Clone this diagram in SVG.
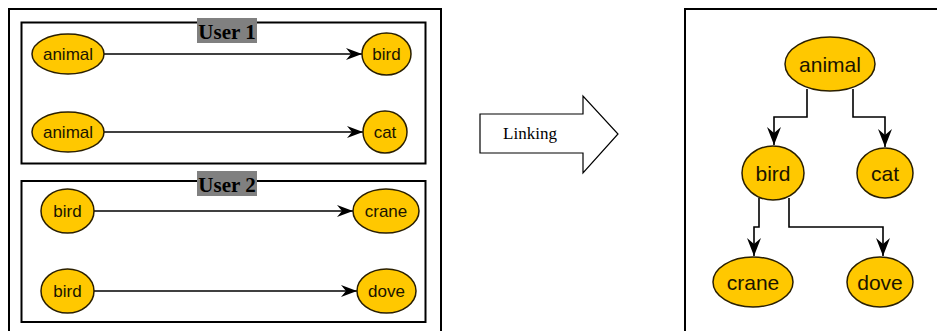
<svg xmlns="http://www.w3.org/2000/svg" width="937" height="331" viewBox="0 0 937 331">
<defs>
<marker id="ah" markerUnits="userSpaceOnUse" markerWidth="18" markerHeight="14" refX="17" refY="7" orient="auto">
<path d="M1,1 L17,7 L1,13 L6,7 Z" fill="#000"/>
</marker>
<marker id="ah2" markerUnits="userSpaceOnUse" markerWidth="20" markerHeight="16" refX="19" refY="8" orient="auto">
<path d="M1,1 L19,8 L1,15 L7,8 Z" fill="#000"/>
</marker>
</defs>
<style>
.frame{fill:none;stroke:#000;stroke-width:2}
.node ellipse{fill:#FFC800;stroke:#2a1f00;stroke-width:1.5}
.node text{font-family:"Liberation Sans",Arial,sans-serif;font-size:17px;fill:#1a1400;text-anchor:middle;dominant-baseline:central}
.big text{font-size:21px}
.edge{fill:none;stroke:#000;stroke-width:1.5;marker-end:url(#ah)}
.tedge{fill:none;stroke:#000;stroke-width:1.6;marker-end:url(#ah2)}
.ulabel{font-family:"Liberation Serif","Times New Roman",serif;font-weight:bold;font-size:21px;fill:#000;text-anchor:middle}
</style>
<rect width="937" height="331" fill="#fff"/>
<g id="frames">
<rect class="frame" x="9" y="9" width="432" height="340"/>
<rect class="frame" x="21.5" y="22.5" width="404" height="141"/>
<rect class="frame" x="21.5" y="181" width="404" height="141"/>
<rect class="frame" x="685" y="9" width="270" height="340"/>
</g>
<g id="user1-label">
<rect x="197" y="18" width="60" height="25" fill="#808080"/>
<text class="ulabel" x="227" y="38.5">User 1</text>
</g>
<g id="user2-label">
<rect x="197" y="171" width="60" height="25" fill="#808080"/>
<text class="ulabel" x="227" y="191.5">User 2</text>
</g>
<g id="linking">
<polygon points="480,114 583,114 583,96 618,134 583,173 583,153 480,153" fill="#fff" stroke="#000" stroke-width="1.2"/>
<text x="530" y="139" font-family="Liberation Serif,'Times New Roman',serif" font-size="17" text-anchor="middle">Linking</text>
</g>
<g id="connectors">
<line class="edge" x1="104" y1="54" x2="362" y2="54"/>
<line class="edge" x1="104" y1="132" x2="363" y2="132"/>
<line class="edge" x1="94" y1="211" x2="353" y2="211"/>
<line class="edge" x1="94" y1="291" x2="357" y2="291"/>
<polyline class="tedge" points="807,89 807,117 774,117 774,145"/>
<polyline class="tedge" points="853,89 853,117 885,117 885,147"/>
<polyline class="tedge" points="759,198 759,227 754,227 754,256"/>
<polyline class="tedge" points="789,198 789,227 883,227 883,256"/>
</g>
<g id="u1-animal-a" class="node"><ellipse cx="68" cy="54" rx="36" ry="20"/><text x="68" y="54">animal</text></g>
<g id="u1-bird" class="node"><ellipse cx="386.5" cy="54" rx="24.5" ry="21"/><text x="386.5" y="54">bird</text></g>
<g id="u1-animal-b" class="node"><ellipse cx="68" cy="132" rx="36" ry="20"/><text x="68" y="132">animal</text></g>
<g id="u1-cat" class="node"><ellipse cx="385" cy="132" rx="22" ry="21"/><text x="385" y="132">cat</text></g>
<g id="u2-bird-a" class="node"><ellipse cx="67.5" cy="211" rx="26.5" ry="22"/><text x="67.5" y="211">bird</text></g>
<g id="u2-crane" class="node"><ellipse cx="386" cy="211" rx="33" ry="22"/><text x="386" y="211">crane</text></g>
<g id="u2-bird-b" class="node"><ellipse cx="67.5" cy="291" rx="26.5" ry="22"/><text x="67.5" y="291">bird</text></g>
<g id="u2-dove" class="node"><ellipse cx="386.5" cy="291" rx="29.5" ry="22"/><text x="386.5" y="291">dove</text></g>
<g id="t-animal" class="node big"><ellipse cx="830" cy="64" rx="45" ry="27"/><text x="830" y="64">animal</text></g>
<g id="t-bird" class="node big"><ellipse cx="773" cy="173" rx="31" ry="27"/><text x="773" y="173">bird</text></g>
<g id="t-cat" class="node big"><ellipse cx="885" cy="173" rx="28" ry="25"/><text x="885" y="173">cat</text></g>
<g id="t-crane" class="node big"><ellipse cx="753" cy="282" rx="40" ry="25"/><text x="753" y="282">crane</text></g>
<g id="t-dove" class="node big"><ellipse cx="880" cy="282" rx="33" ry="25"/><text x="880" y="282">dove</text></g>
</svg>
